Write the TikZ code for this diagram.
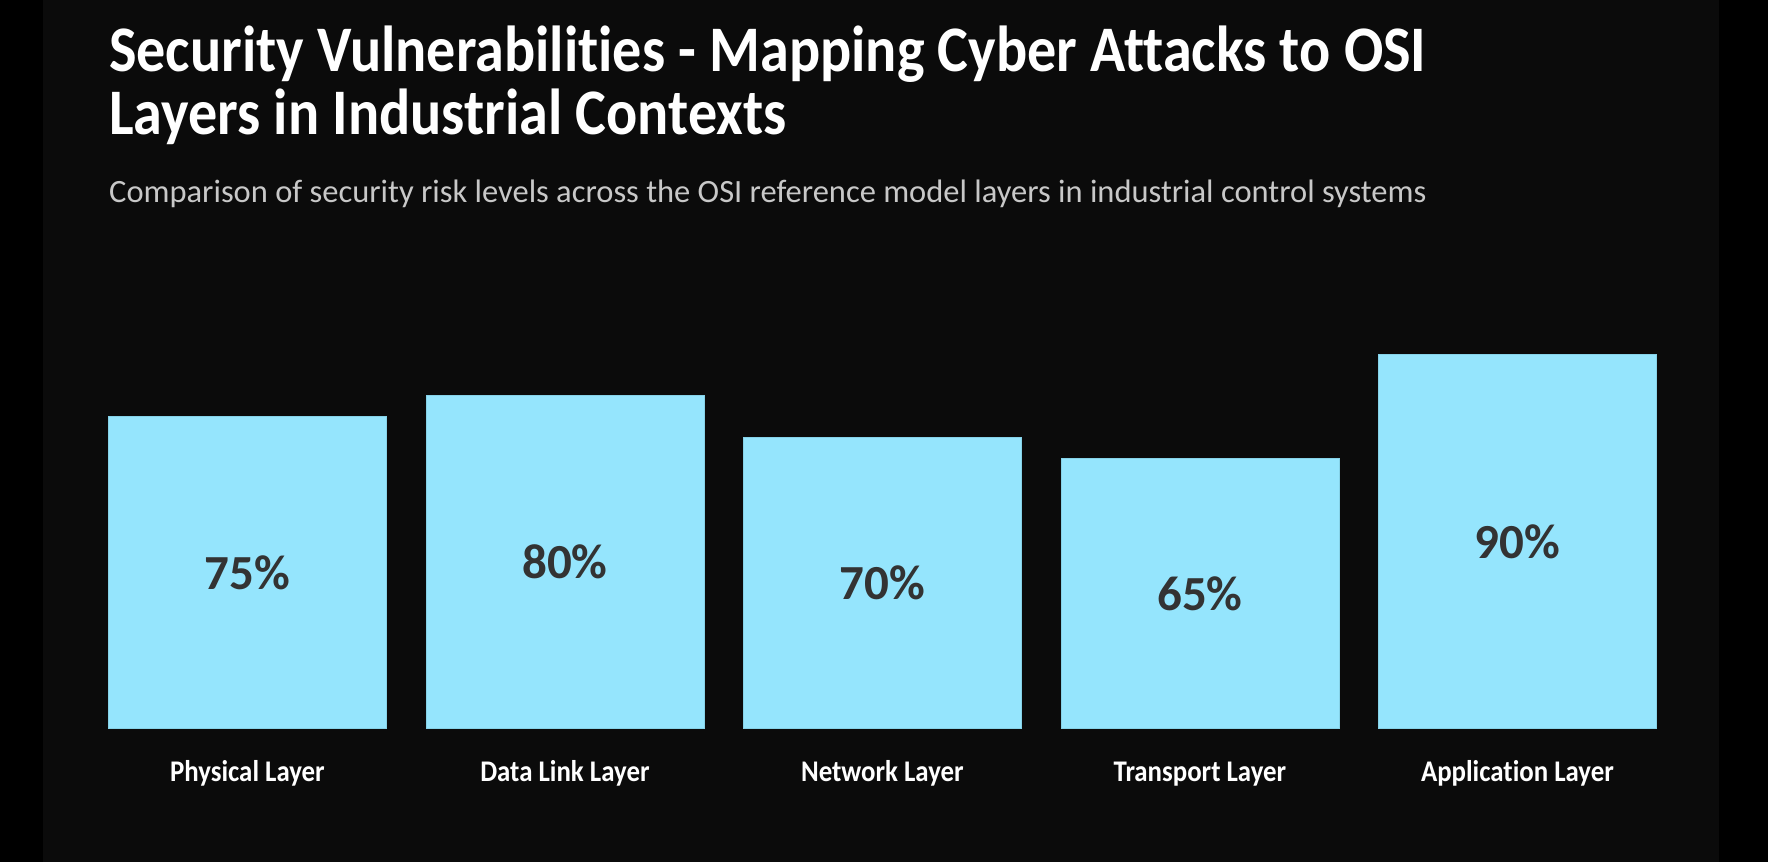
\documentclass[tikz,border=0pt]{standalone}
\usepackage{fontspec}
\setmainfont{Carlito}[Ligatures=CommonOff]
\usepackage{xcolor}
\definecolor{pageBlack}{HTML}{000000}
\definecolor{panelDark}{HTML}{0B0B0B}
\definecolor{barCyan}{HTML}{95E5FD}
\definecolor{barEdge}{HTML}{86D2E8}
\definecolor{valueGray}{HTML}{333333}
\definecolor{subGray}{HTML}{C8C8C8}
\usetikzlibrary{positioning,calc}
\newcommand{\narrowText}[1]{\scalebox{0.895}[1]{#1}}
\tikzset{%
  barBox/.style={%
    rectangle,
    draw=barEdge,
    line width=0.8pt,
    fill=barCyan,
    minimum width=278pt,
    inner sep=0pt,
    anchor=south west
  },
  valueLabel/.style={%
    text=valueGray,
    font=\fontsize{49}{49}\selectfont\bfseries
  },
  layerLabel/.style={%
    text=white,
    anchor=base,
    font=\fontsize{30}{30}\selectfont\bfseries
  },
  titleText/.style={%
    text=white,
    anchor=base west,
    inner sep=0pt,
    font=\fontsize{65}{65}\selectfont\bfseries
  },
  subText/.style={%
    text=subGray,
    anchor=base west,
    inner sep=0pt,
    font=\fontsize{32.5}{32.5}\selectfont
  }
}

\begin{document}
\begin{tikzpicture}[x=1pt,y=-1pt]
  \fill[pageBlack] (0,0) rectangle (1768,862);
  \fill[panelDark] (43,0) rectangle (1719,862);
  \useasboundingbox (0,0) rectangle (1768,862);

  \node[titleText] (title1) at (109,71) {\narrowText{Security Vulnerabilities - Mapping Cyber Attacks to OSI}};
  \node[titleText] (title2) at (109,134) {\narrowText{Layers in Industrial Contexts}};
  \node[subText] (subtitle) at (109,202) {Comparison of security risk levels across the OSI reference model layers in industrial control systems};

  \foreach \val/\name [count=\i from 0] in {75/Physical Layer, 80/Data Link Layer, 70/Network Layer, 65/Transport Layer, 90/Application Layer}{%
    \node[barBox, minimum height=\val*4.16pt] (bar\i) at ({108+317.5*\i},729) {};
    \node[valueLabel] (val\i) at (bar\i.center) {\val\%};
    \node[layerLabel] (layer\i) at ([yshift=-52pt]bar\i.south) {\narrowText{\name}};
  }
\end{tikzpicture}
\end{document}
